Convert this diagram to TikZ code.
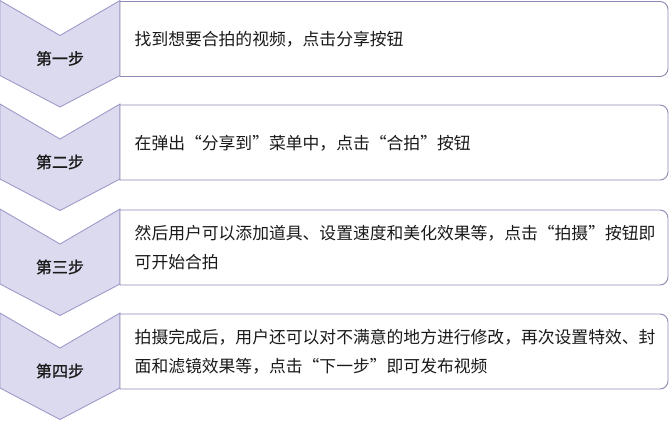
\documentclass[tikz,border=0pt]{standalone}
\usepackage{fontspec}
\newfontfamily\cjk{Noto Sans CJK SC}
\newfontfamily\cjkb[FakeBold=0.7]{Noto Sans CJK SC}
\definecolor{chevfill}{HTML}{DCDAEE}
\definecolor{chevline}{HTML}{9E9ACA}
\definecolor{boxline}{HTML}{8A8AB4}
\definecolor{txt}{HTML}{1A1A1A}
\tikzset{
  chev/.style={fill=chevfill,draw=chevline,line width=0.9pt,line join=miter},
  stepbox/.style={draw=boxline,line width=0.9pt,fill=white},
  steplabel/.style={font=\cjkb\fontsize{16}{18}\selectfont,text=txt},
  steptext/.style={font=\cjk\fontsize{16.8}{29}\selectfont,text=txt,anchor=west,align=left,inner sep=0pt}
}
\begin{document}
\begin{tikzpicture}[x=1pt,y=-1pt]
\useasboundingbox (0,0) rectangle (670,421);
\foreach \T/\lab/\name in {0.5/第一步/a,104/第二步/b,209/第三步/c,313/第四步/d}{
  \draw[chev] (0,\T) -- (60,\T+35) -- (120,\T) -- (120,\T+75) -- (60,\T+106.5) -- (0,\T+75) -- cycle;
  \draw[stepbox] (120,\T+1) -- (660,\T+1) arc[start angle=-90,end angle=0,radius=8] -- (668,\T+68) arc[start angle=0,end angle=90,radius=8] -- (120,\T+76) -- cycle;
  \node[steplabel] (lab\name) at (60,\T+58) {\lab};
}
\node[steptext] (t1) at (134.5,39) {找到想要合拍的视频，点击分享按钮};
\node[steptext] (t2) at (134.5,143) {在弹出“分享到”菜单中，点击“合拍”按钮};
\node[steptext] (t3) at (134.5,247.5) {然后用户可以添加道具、设置速度和美化效果等，点击“拍摄”按钮即\\可开始合拍};
\node[steptext] (t4) at (134.5,351.5) {拍摄完成后，用户还可以对不满意的地方进行修改，再次设置特效、封\\面和滤镜效果等，点击“下一步”即可发布视频};
\end{tikzpicture}
\end{document}
